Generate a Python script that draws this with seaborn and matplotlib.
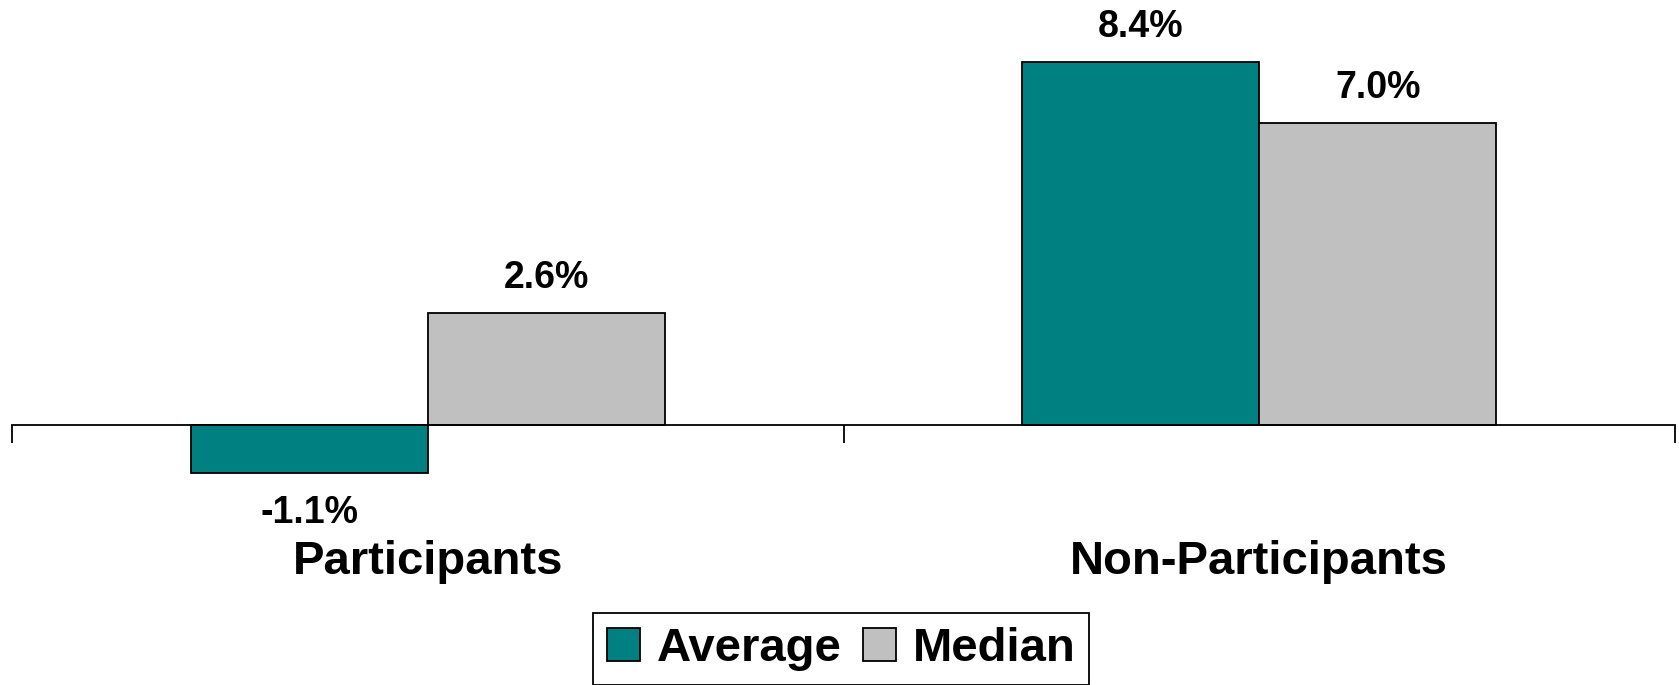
import pandas as pd
import matplotlib
matplotlib.use("Agg")
import matplotlib.pyplot as plt
import seaborn as sns

groups = ["Participants", "Non-Participants"]
series = ["Average", "Median"]
average = [-1.1, 8.4]
median = [2.6, 7.0]
colors = ["#008080", "#C0C0C0"]

df = pd.DataFrame({
    "Group": groups * 2,
    "Stat": ["Average"] * 2 + ["Median"] * 2,
    "Value": average + median,
})

sns.set_style("white")
plt.rcParams["font.family"] = ["Liberation Sans", "DejaVu Sans"]
plt.rcParams["font.weight"] = "bold"
plt.rcParams["text.color"] = "black"

fig = plt.figure(figsize=(16.79, 6.85), dpi=100)
ax = fig.add_axes([12 / 1679, 0.2847, 1663 / 1679, 0.7153])

sns.barplot(data=df, x="Group", y="Value", hue="Stat", order=groups,
            hue_order=series, palette=colors, width=0.57, saturation=1,
            edgecolor="black", linewidth=1.3, ax=ax)

ax.set_xlim(-0.5, 1.5)
ax.set_ylim(-1.5, 9.84)

# value labels
for cont in ax.containers:
    for bar in cont:
        h = bar.get_height()
        x = bar.get_x() + bar.get_width() / 2
        off = 25 if h >= 0 else -29
        ax.annotate(f"{h:.1f}%", xy=(x, h), xytext=(0, off),
                    textcoords="offset points", ha="center", va="center",
                    fontsize=27, fontweight="bold", color="black")

# category labels
for i, g in enumerate(groups):
    ax.annotate(g, xy=(i, 0), xytext=(0, -98.6), textcoords="offset points",
                ha="center", va="center", fontsize=34, fontweight="bold",
                color="black", annotation_clip=False)

for s in ["top", "right", "left"]:
    ax.spines[s].set_visible(False)
ax.spines["bottom"].set_position(("data", 0))
ax.spines["bottom"].set_color("black")
ax.spines["bottom"].set_linewidth(1.3)
ax.set_xticks([-0.5, 0.5, 1.5])
ax.set_xticklabels([])
ax.tick_params(axis="x", direction="out", length=13, width=1.3, color="black", bottom=True)
ax.set_yticks([])
ax.set_xlabel("")
ax.set_ylabel("")

ax.legend_.remove()
handles = [plt.Rectangle((0, 0), 1, 1, facecolor=c, edgecolor="black", linewidth=1.3)
           for c in colors]
leg = fig.legend(handles, series, loc="upper center", bbox_to_anchor=(0.501, 1 - 613 / 685),
                 ncol=2, frameon=True, fancybox=False, framealpha=1,
                 edgecolor="black", prop={"size": 34, "weight": "bold"},
                 handlelength=0.7, handleheight=0.7, handletextpad=0.35,
                 columnspacing=0.45, borderpad=0.3, borderaxespad=0)
leg.get_frame().set_linewidth(1.3)
for t in leg.get_texts():
    t.set_color("black")

fig.savefig("out.png", dpi=100)
